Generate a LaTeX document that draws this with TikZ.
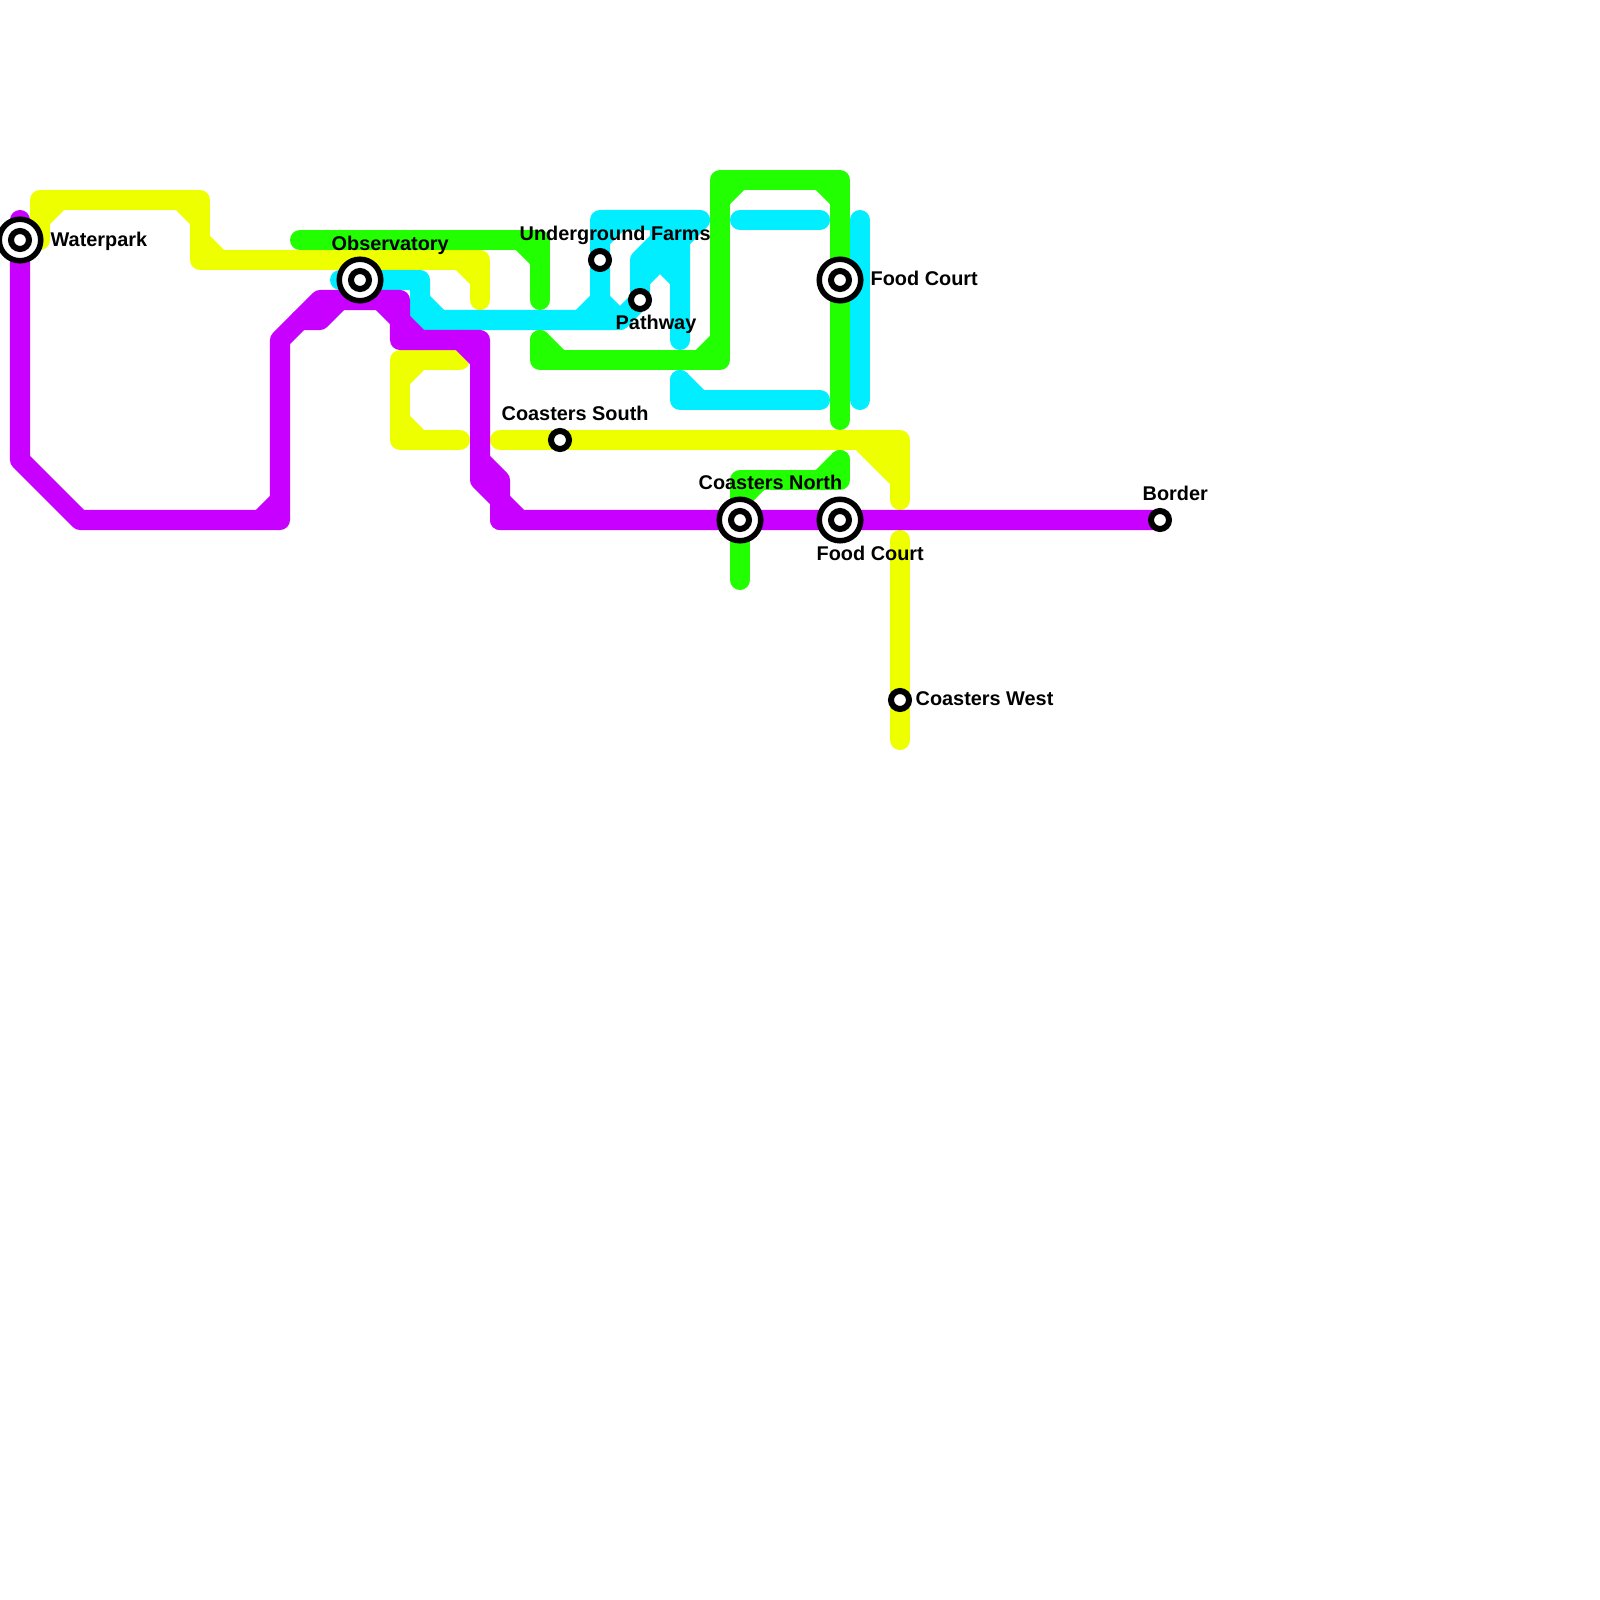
\documentclass[tikz,border=0pt]{standalone}
\usepackage{fontspec}
\setmainfont{Liberation Sans}
\definecolor{LinePurple}{RGB}{200,0,255}
\definecolor{LineGreen}{RGB}{34,255,0}
\definecolor{LineYellow}{RGB}{238,255,0}
\definecolor{LineCyan}{RGB}{0,238,255}
\tikzset{
  route/.style={line width=0.2cm,line cap=round,line join=round},
  stn/.style={circle,draw=black,fill=white,line width=0.06cm,inner sep=0pt,minimum size=0.18cm},
  hub/.style={circle,draw=black,fill=white,line width=0.055cm,inner sep=0pt,minimum size=0.415cm},
  lbl/.style={anchor=base west,inner sep=0pt,text=black,font=\fontsize{5.65}{6.8}\selectfont\bfseries},
}
\begin{document}
\begin{tikzpicture}[x=0.01cm,y=-0.01cm]
\useasboundingbox (0,0) rectangle (1600,1600);
% stations
\coordinate (waterpark) at (20,240);
\coordinate (observatory) at (360,280);
\coordinate (farms) at (600,260);
\coordinate (pathway) at (640,300);
\coordinate (courtn) at (840,280);
\coordinate (courts) at (840,520);
\coordinate (coasterss) at (560,440);
\coordinate (coastersn) at (740,520);
\coordinate (coastersw) at (900,700);
\coordinate (border) at (1160,520);
% cyan
\coordinate (cy1) at (340,280);
\coordinate (cy2) at (420,280);
\coordinate (cy3) at (420,320);
\coordinate (cy4) at (620,320);
\coordinate (cy5) at (420,300);
\coordinate (cy6) at (440,320);
\coordinate (cy7) at (600,320);
\coordinate (cy8) at (600,220);
\coordinate (cy9) at (700,220);
\coordinate (cy10) at (580,320);
\coordinate (cy11) at (600,300);
\coordinate (cy12) at (600,240);
\coordinate (cy13) at (620,220);
\coordinate (cy14) at (680,340);
\coordinate (cy15) at (680,240);
\coordinate (cy16) at (640,260);
\coordinate (cy17) at (680,220);
\coordinate (cy18) at (660,220);
\coordinate (cy19) at (660,260);
\coordinate (cy20) at (640,280);
\coordinate (cy21) at (680,280);
\coordinate (cy22) at (680,380);
\coordinate (cy23) at (680,400);
\coordinate (cy24) at (820,400);
\coordinate (cy25) at (700,400);
\coordinate (cy26) at (740,220);
\coordinate (cy27) at (820,220);
\coordinate (cy28) at (860,220);
\coordinate (cy29) at (860,400);
\draw[route,LineCyan] (cy1)--(cy2)--(cy3)--(cy4)--(pathway)--(cy16)--(cy17);
\draw[route,LineCyan] (cy5)--(cy6);
\draw[route,LineCyan] (cy7)--(cy8)--(cy9)--(cy15)--(cy14);
\draw[route,LineCyan] (cy10)--(cy11)--(cy4);
\draw[route,LineCyan] (cy12)--(cy13);
\draw[route,LineCyan] (cy18)--(cy19);
\draw[route,LineCyan] (cy20)--(cy19)--(cy21);
\draw[route,LineCyan] (cy22)--(cy23)--(cy24);
\draw[route,LineCyan] (cy22)--(cy25);
\draw[route,LineCyan] (cy26)--(cy27);
\draw[route,LineCyan] (cy28)--(cy29);
% green
\coordinate (gr1) at (300,240);
\coordinate (gr2) at (540,240);
\coordinate (gr3) at (540,300);
\coordinate (gr4) at (520,240);
\coordinate (gr5) at (540,260);
\coordinate (gr6) at (540,340);
\coordinate (gr7) at (540,360);
\coordinate (gr8) at (720,360);
\coordinate (gr9) at (720,180);
\coordinate (gr10) at (840,180);
\coordinate (gr11) at (840,420);
\coordinate (gr12) at (560,360);
\coordinate (gr13) at (700,360);
\coordinate (gr14) at (720,340);
\coordinate (gr15) at (720,200);
\coordinate (gr16) at (740,180);
\coordinate (gr17) at (820,180);
\coordinate (gr18) at (840,200);
\coordinate (gr19) at (840,460);
\coordinate (gr20) at (840,480);
\coordinate (gr21) at (740,480);
\coordinate (gr22) at (740,580);
\coordinate (gr23) at (820,480);
\coordinate (gr24) at (740,500);
\coordinate (gr25) at (760,480);
\draw[route,LineGreen] (gr1)--(gr2)--(gr3);
\draw[route,LineGreen] (gr4)--(gr5);
\draw[route,LineGreen] (gr6)--(gr7)--(gr8)--(gr9)--(gr10)--(gr11);
\draw[route,LineGreen] (gr6)--(gr12);
\draw[route,LineGreen] (gr13)--(gr14);
\draw[route,LineGreen] (gr15)--(gr16);
\draw[route,LineGreen] (gr17)--(gr18);
\draw[route,LineGreen] (gr19)--(gr20)--(gr21)--(gr22);
\draw[route,LineGreen] (gr19)--(gr23);
\draw[route,LineGreen] (gr24)--(gr25);
% yellow
\coordinate (ye1) at (40,240);
\coordinate (ye2) at (40,200);
\coordinate (ye3) at (200,200);
\coordinate (ye4) at (200,260);
\coordinate (ye5) at (480,260);
\coordinate (ye6) at (480,300);
\coordinate (ye7) at (40,220);
\coordinate (ye8) at (60,200);
\coordinate (ye9) at (180,200);
\coordinate (ye10) at (200,220);
\coordinate (ye11) at (200,240);
\coordinate (ye12) at (220,260);
\coordinate (ye13) at (460,260);
\coordinate (ye14) at (480,280);
\coordinate (ye15) at (460,360);
\coordinate (ye16) at (400,360);
\coordinate (ye17) at (400,440);
\coordinate (ye18) at (460,440);
\coordinate (ye19) at (400,380);
\coordinate (ye20) at (420,360);
\coordinate (ye21) at (400,420);
\coordinate (ye22) at (420,440);
\coordinate (ye23) at (500,440);
\coordinate (ye24) at (900,440);
\coordinate (ye25) at (900,500);
\coordinate (ye26) at (860,440);
\coordinate (ye27) at (900,480);
\coordinate (ye28) at (900,540);
\coordinate (ye29) at (900,740);
\coordinate (ye30) at (880,440);
\coordinate (ye31) at (900,460);
\draw[route,LineYellow] (ye1)--(ye2)--(ye3)--(ye4)--(ye5)--(ye6);
\draw[route,LineYellow] (ye7)--(ye8);
\draw[route,LineYellow] (ye9)--(ye10);
\draw[route,LineYellow] (ye11)--(ye12);
\draw[route,LineYellow] (ye13)--(ye14);
\draw[route,LineYellow] (ye15)--(ye16)--(ye17)--(ye18);
\draw[route,LineYellow] (ye19)--(ye20);
\draw[route,LineYellow] (ye21)--(ye22);
\draw[route,LineYellow] (ye23)--(ye24)--(ye25);
\draw[route,LineYellow] (ye26)--(ye27);
\draw[route,LineYellow] (ye30)--(ye31);
\draw[route,LineYellow] (ye28)--(ye29);
% purple
\coordinate (pu1) at (20,220);
\coordinate (pu2) at (20,460);
\coordinate (pu3) at (80,520);
\coordinate (pu4) at (280,520);
\coordinate (pu5) at (280,340);
\coordinate (pu6) at (320,300);
\coordinate (pu7) at (400,300);
\coordinate (pu8) at (400,340);
\coordinate (pu9) at (480,340);
\coordinate (pu10) at (480,480);
\coordinate (pu11) at (500,500);
\coordinate (pu12) at (500,520);
\coordinate (pu13) at (260,520);
\coordinate (pu14) at (280,500);
\coordinate (pu15) at (300,320);
\coordinate (pu16) at (320,320);
\coordinate (pu17) at (340,300);
\coordinate (pu18) at (380,300);
\coordinate (pu19) at (400,320);
\coordinate (pu20) at (420,340);
\coordinate (pu21) at (460,340);
\coordinate (pu22) at (480,360);
\coordinate (pu23) at (480,460);
\coordinate (pu24) at (500,480);
\coordinate (pu25) at (520,520);
\draw[route,LinePurple] (pu1)--(pu2)--(pu3)--(pu4)--(pu5)--(pu6)--(pu7)--(pu8)--(pu9)--(pu10)--(pu11)--(pu12)--(border);
\draw[route,LinePurple] (pu13)--(pu14);
\draw[route,LinePurple] (pu15)--(pu16)--(pu17);
\draw[route,LinePurple] (pu18)--(pu19)--(pu20);
\draw[route,LinePurple] (pu21)--(pu22);
\draw[route,LinePurple] (pu23)--(pu24)--(pu12);
\draw[route,LinePurple] (pu11)--(pu25);
% markers
\node[hub] (waterparkhub) at (waterpark) {};
\node[stn] (waterparkstn) at (waterpark) {};
\node[hub] (observatoryhub) at (observatory) {};
\node[stn] (observatorystn) at (observatory) {};
\node[hub] (courtnhub) at (courtn) {};
\node[stn] (courtnstn) at (courtn) {};
\node[hub] (courtshub) at (courts) {};
\node[stn] (courtsstn) at (courts) {};
\node[hub] (coastersnhub) at (coastersn) {};
\node[stn] (coastersnstn) at (coastersn) {};
\node[stn] (farmsstn) at (farms) {};
\node[stn] (pathwaystn) at (pathway) {};
\node[stn] (coasterssstn) at (coasterss) {};
\node[stn] (coasterswstn) at (coastersw) {};
\node[stn] (borderstn) at (border) {};
% labels
\node[lbl] (waterparklbl) at (50,246) {Waterpark};
\node[lbl] (observatorylbl) at (331,250) {Observatory};
\node[lbl] (farmslbl) at (519,240) {Underground Farms};
\node[lbl] (pathwaylbl) at (615,329) {Pathway};
\node[lbl] (courtnlbl) at (870,285) {Food Court};
\node[lbl] (coasterslbl) at (501,420) {Coasters South};
\node[lbl] (coastersnlbl) at (698,489) {Coasters North};
\node[lbl] (courtslbl) at (816,560) {Food Court};
\node[lbl] (borderlbl) at (1142,500) {Border};
\node[lbl] (coasterswlbl) at (915,705) {Coasters West};
\end{tikzpicture}
\end{document}
